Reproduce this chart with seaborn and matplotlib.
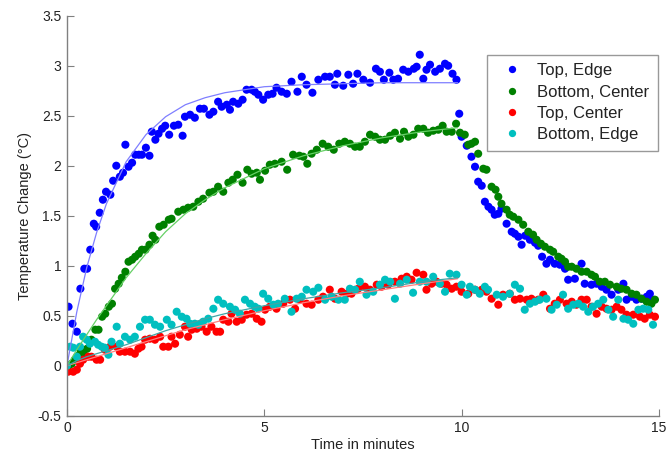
import pandas as pd
import matplotlib
matplotlib.use("Agg")
import matplotlib.pyplot as plt
import seaborn as sns

# series (time in minutes, temperature change in °C)
top_edge_t = [0.04, 0.14, 0.25, 0.34, 0.44, 0.51, 0.59, 0.68, 0.74, 0.83, 0.91, 0.99, 1.10, 1.17, 1.25,
              1.34, 1.42, 1.48, 1.56, 1.65, 1.73, 1.82, 1.90, 2.00, 2.09, 2.15, 2.24, 2.32, 2.41, 2.49,
              2.59, 2.71, 2.82, 2.93, 2.99, 3.12, 3.24, 3.37, 3.47, 3.61, 3.71, 3.83, 3.92, 4.05, 4.13,
              4.21, 4.34, 4.45, 4.55, 4.68, 4.76, 4.85, 4.97, 5.10, 5.21, 5.31, 5.44, 5.57, 5.69, 5.84,
              5.95, 6.07, 6.22, 6.37, 6.54, 6.66, 6.79, 6.85, 7.00, 7.13, 7.25, 7.36, 7.51, 7.68, 7.83,
              7.93, 8.03, 8.17, 8.27, 8.39, 8.52, 8.65, 8.79, 8.86, 8.94, 9.03, 9.11, 9.20, 9.33, 9.45,
              9.58, 9.66, 9.77, 9.87, 9.94, 10.00, 10.13, 10.25, 10.34, 10.42, 10.51, 10.59, 10.68, 10.76,
              10.84, 10.93, 11.01, 11.14, 11.27, 11.35, 11.44, 11.52, 11.61, 11.73, 11.86, 11.94, 12.04,
              12.15, 12.24, 12.36, 12.49, 12.62, 12.70, 12.87, 13.04, 13.12, 13.29, 13.42, 13.55, 13.67,
              13.80, 13.97, 14.10, 14.18, 14.31, 14.43, 14.56, 14.69, 14.77, 14.86]
top_edge_v = [0.59, 0.42, 0.34, 0.77, 0.97, 0.97, 1.16, 1.42, 1.39, 1.53, 1.66, 1.74, 1.71, 1.85, 2.00,
              1.89, 1.93, 2.21, 1.99, 2.03, 2.11, 2.11, 2.11, 2.18, 2.10, 2.34, 2.26, 2.32, 2.37, 2.40,
              2.31, 2.40, 2.41, 2.30, 2.49, 2.51, 2.48, 2.57, 2.57, 2.51, 2.54, 2.64, 2.59, 2.61, 2.56,
              2.64, 2.62, 2.66, 2.76, 2.76, 2.74, 2.71, 2.66, 2.71, 2.72, 2.78, 2.74, 2.72, 2.84, 2.74,
              2.89, 2.81, 2.73, 2.86, 2.89, 2.89, 2.81, 2.92, 2.80, 2.91, 2.82, 2.92, 2.86, 2.83, 2.97,
              2.94, 2.86, 2.93, 2.86, 2.87, 2.96, 2.94, 2.97, 2.99, 3.11, 2.87, 2.96, 3.01, 2.94, 2.97,
              3.02, 3.00, 2.92, 2.86, 2.52, 2.29, 2.20, 2.09, 1.99, 1.84, 1.80, 1.64, 1.59, 1.56,
              1.51, 1.52, 1.57, 1.42, 1.34, 1.32, 1.29, 1.21, 1.30, 1.26, 1.23, 1.20, 1.09,
              1.02, 1.06, 1.02, 1.01, 0.97, 0.86, 0.87, 1.02, 0.82, 0.81, 0.82, 0.79, 0.76,
              0.71, 0.76, 0.82, 0.66, 0.69, 0.66, 0.67, 0.69, 0.72, 0.66]

bottom_center_t = [0.04, 0.12, 0.20, 0.29, 0.35, 0.42, 0.51, 0.62, 0.72, 0.80, 0.89, 0.97, 1.06, 1.14,
                   1.22, 1.31, 1.39, 1.48, 1.56, 1.65, 1.73, 1.82, 1.90, 1.99, 2.09, 2.17, 2.24, 2.34,
                   2.45, 2.58, 2.65, 2.82, 2.95, 3.07, 3.20, 3.33, 3.45, 3.61, 3.71, 3.83, 3.96, 4.09,
                   4.20, 4.32, 4.45, 4.57, 4.68, 4.81, 4.89, 5.02, 5.14, 5.27, 5.44, 5.58, 5.73, 5.89,
                   5.99, 6.09, 6.20, 6.33, 6.48, 6.62, 6.76, 6.90, 7.04, 7.17, 7.30, 7.42, 7.55, 7.68,
                   7.81, 7.93, 8.06, 8.19, 8.31, 8.44, 8.54, 8.65, 8.78, 8.90, 9.03, 9.15, 9.28, 9.41,
                   9.52, 9.62, 9.75, 9.86, 9.96, 10.08, 10.17, 10.25, 10.34, 10.42, 10.55, 10.63, 10.76,
                   10.86, 10.93, 11.01, 11.14, 11.22, 11.31, 11.44, 11.56, 11.69, 11.81, 11.90, 12.01,
                   12.11, 12.24, 12.32, 12.45, 12.53, 12.62, 12.70, 12.79, 12.91, 13.04, 13.17, 13.29,
                   13.38, 13.50, 13.63, 13.76, 13.93, 14.05, 14.18, 14.31, 14.43, 14.56, 14.69, 14.81, 14.90]
bottom_center_v = [0.00, 0.02, 0.06, 0.10, 0.14, 0.12, 0.17, 0.26, 0.36, 0.36, 0.49, 0.52, 0.59, 0.62,
                   0.77, 0.82, 0.88, 0.94, 1.04, 1.06, 1.09, 1.12, 1.16, 1.16, 1.21, 1.30, 1.26, 1.39,
                   1.41, 1.46, 1.47, 1.54, 1.56, 1.58, 1.59, 1.64, 1.67, 1.73, 1.74, 1.79, 1.74, 1.83,
                   1.86, 1.91, 1.83, 1.96, 1.92, 1.93, 1.86, 1.95, 2.01, 2.02, 2.04, 1.96, 2.11, 2.10,
                   2.09, 2.02, 2.12, 2.16, 2.22, 2.19, 2.16, 2.22, 2.24, 2.22, 2.19, 2.19, 2.24, 2.31,
                   2.29, 2.26, 2.26, 2.30, 2.33, 2.27, 2.34, 2.29, 2.31, 2.37, 2.37, 2.33, 2.35, 2.36,
                   2.40, 2.34, 2.34, 2.42, 2.33, 2.31, 2.21, 2.22, 2.24, 2.12, 1.97, 1.96, 1.79,
                   1.76, 1.69, 1.62, 1.56, 1.51, 1.49, 1.46, 1.41, 1.34, 1.31, 1.26, 1.22,
                   1.19, 1.16, 1.14, 1.09, 1.07, 1.04, 0.99, 0.99, 0.97, 0.94, 0.94, 0.91,
                   0.89, 0.84, 0.84, 0.81, 0.79, 0.77, 0.76, 0.72, 0.71, 0.67, 0.64, 0.62, 0.66]

top_center_t = [0.03, 0.16, 0.25, 0.33, 0.41, 0.54, 0.62, 0.75, 0.84, 0.96, 1.09, 1.26, 1.34, 1.47, 1.60,
                1.72, 1.81, 1.89, 1.98, 2.10, 2.23, 2.36, 2.44, 2.57, 2.65, 2.74, 2.86, 2.99, 3.07, 3.16,
                3.29, 3.41, 3.54, 3.66, 3.79, 3.88, 3.96, 4.09, 4.17, 4.30, 4.43, 4.55, 4.68, 4.81, 4.93,
                5.02, 5.14, 5.31, 5.48, 5.65, 5.78, 5.90, 6.07, 6.20, 6.37, 6.49, 6.66, 6.79, 6.96, 7.09,
                7.21, 7.38, 7.55, 7.68, 7.85, 7.97, 8.14, 8.31, 8.48, 8.61, 8.73, 8.86, 9.03, 9.11, 9.24,
                9.37, 9.49, 9.62, 9.75, 9.87, 10.00, 10.17, 10.34, 10.51, 10.63, 10.76, 10.93, 11.05, 11.22,
                11.35, 11.48, 11.65, 11.77, 11.94, 12.07, 12.24, 12.36, 12.49, 12.66, 12.79, 12.91, 13.04,
                13.17, 13.29, 13.42, 13.55, 13.67, 13.80, 13.93, 14.05, 14.18, 14.35, 14.52, 14.64, 14.77, 14.90]
top_center_v = [-0.06, -0.06, -0.04, 0.02, 0.06, 0.09, 0.09, 0.06, 0.06, 0.16, 0.19, 0.19, 0.14, 0.14, 0.14,
                0.12, 0.17, 0.19, 0.26, 0.27, 0.26, 0.29, 0.19, 0.19, 0.29, 0.22, 0.31, 0.39, 0.29, 0.36,
                0.37, 0.39, 0.34, 0.39, 0.34, 0.34, 0.46, 0.44, 0.52, 0.44, 0.46, 0.51, 0.52, 0.47, 0.44,
                0.56, 0.59, 0.57, 0.62, 0.66, 0.57, 0.66, 0.62, 0.61, 0.66, 0.69, 0.76, 0.67, 0.74, 0.72,
                0.72, 0.77, 0.79, 0.76, 0.81, 0.79, 0.81, 0.84, 0.87, 0.89, 0.86, 0.93, 0.91, 0.76, 0.82,
                0.84, 0.82, 0.81, 0.77, 0.79, 0.74, 0.72, 0.76, 0.76, 0.74, 0.67, 0.61, 0.71, 0.72,
                0.66, 0.67, 0.66, 0.67, 0.66, 0.71, 0.57, 0.62, 0.66, 0.62, 0.64, 0.61, 0.66,
                0.66, 0.59, 0.52, 0.59, 0.57, 0.56, 0.59, 0.56, 0.51, 0.51, 0.49, 0.47, 0.51, 0.49]

bottom_edge_t = [0.00, 0.08, 0.16, 0.25, 0.33, 0.41, 0.50, 0.58, 0.71, 0.79, 0.88, 0.96, 1.05, 1.13, 1.26,
                 1.34, 1.47, 1.60, 1.72, 1.85, 1.98, 2.10, 2.23, 2.36, 2.53, 2.65, 2.78, 2.91, 3.03, 3.12,
                 3.24, 3.33, 3.45, 3.58, 3.71, 3.83, 3.96, 4.13, 4.26, 4.38, 4.51, 4.64, 4.76, 4.85, 4.97,
                 5.10, 5.23, 5.35, 5.52, 5.69, 5.82, 5.95, 6.07, 6.24, 6.37, 6.54, 6.71, 6.88, 7.04, 7.17,
                 7.30, 7.42, 7.59, 7.76, 7.93, 8.06, 8.19, 8.31, 8.44, 8.61, 8.77, 8.94, 9.11, 9.28, 9.45,
                 9.58, 9.70, 9.87, 10.00, 10.13, 10.21, 10.34, 10.46, 10.59, 10.67, 10.89, 11.05, 11.22,
                 11.35, 11.48, 11.60, 11.73, 11.86, 11.98, 12.15, 12.28, 12.41, 12.57, 12.70, 12.83, 12.96,
                 13.08, 13.21, 13.33, 13.46, 13.59, 13.72, 13.84, 13.97, 14.10, 14.22, 14.35, 14.48, 14.60,
                 14.73, 14.85]
bottom_edge_v = [0.00, 0.19, 0.18, 0.09, 0.19, 0.29, 0.26, 0.22, 0.24, 0.21, 0.19, 0.18, 0.11, 0.24, 0.39,
                 0.22, 0.29, 0.26, 0.29, 0.39, 0.46, 0.46, 0.41, 0.39, 0.46, 0.41, 0.54, 0.49, 0.47, 0.42,
                 0.42, 0.41, 0.44, 0.47, 0.57, 0.66, 0.62, 0.59, 0.56, 0.52, 0.66, 0.62, 0.59, 0.57, 0.72,
                 0.67, 0.61, 0.62, 0.67, 0.54, 0.67, 0.69, 0.76, 0.74, 0.78, 0.66, 0.69, 0.66, 0.66, 0.77,
                 0.76, 0.84, 0.71, 0.74, 0.81, 0.86, 0.84, 0.67, 0.82, 0.86, 0.73, 0.84, 0.84, 0.89, 0.82,
                 0.74, 0.92, 0.91, 0.81, 0.71, 0.79, 0.76, 0.72, 0.79, 0.76, 0.71, 0.69, 0.72,
                 0.81, 0.77, 0.56, 0.62, 0.64, 0.66, 0.67, 0.56, 0.61, 0.71, 0.57, 0.61, 0.62,
                 0.59, 0.54, 0.59, 0.62, 0.66, 0.56, 0.49, 0.66, 0.47, 0.46, 0.42, 0.56, 0.57,
                 0.56, 0.41]

# fitted curves, read at a few times (drawn only up to ~10 min)
fit_t = [0, 0.25, 0.5, 0.75, 1, 1.5, 2, 2.5, 3, 3.5, 4, 5, 6, 7, 8, 9, 9.9]
fit_top_edge = [0, 0.54, 0.98, 1.33, 1.62, 2.04, 2.31, 2.49, 2.61, 2.68, 2.73, 2.79, 2.81, 2.82, 2.83, 2.83, 2.83]
fit_bottom_center = [0, 0.16, 0.31, 0.46, 0.6, 0.88, 1.12, 1.34, 1.52, 1.66, 1.78, 1.97, 2.1, 2.2, 2.28, 2.34, 2.38]
fit_top_center = [0, 0.03, 0.06, 0.09, 0.12, 0.18, 0.24, 0.3, 0.36, 0.41, 0.46, 0.55, 0.63, 0.7, 0.76, 0.82, 0.87]
fit_bottom_edge = [0, 0.05, 0.09, 0.12, 0.15, 0.21, 0.28, 0.35, 0.41, 0.47, 0.52, 0.6, 0.67, 0.73, 0.78, 0.84, 0.88]

labels = ["Top, Edge", "Bottom, Center", "Top, Center", "Bottom, Edge"]
colors = ["#0000ff", "#008000", "#ff0000", "#00bfbf"]
fit_colors = ["#7f7fff", "#66d066", "#ff7f7f", "#3fa6a6"]

series_t = [top_edge_t, bottom_center_t, top_center_t, bottom_edge_t]
series_v = [top_edge_v, bottom_center_v, top_center_v, bottom_edge_v]
fits = [fit_top_edge, fit_bottom_center, fit_top_center, fit_bottom_edge]

df = pd.concat([pd.DataFrame({"t": t, "v": v, "series": lab})
                for t, v, lab in zip(series_t, series_v, labels)], ignore_index=True)
fit_df = pd.concat([pd.DataFrame({"t": fit_t, "v": f, "series": lab})
                    for f, lab in zip(fits, labels)], ignore_index=True)

sns.set_style("ticks")
plt.rcParams["font.family"] = ["Liberation Sans", "DejaVu Sans"]

fig = plt.figure(figsize=(6.71, 4.53), dpi=100)
ax = fig.add_axes([0.0998, 0.0823, 0.8822, 0.8830])

sns.scatterplot(data=df, x="t", y="v", hue="series", hue_order=labels, palette=colors,
                s=34, edgecolor="none", linewidth=0, ax=ax, legend=True)
sns.lineplot(data=fit_df, x="t", y="v", hue="series", hue_order=labels, palette=fit_colors,
             estimator=None, sort=False, linewidth=0.9, ax=ax, legend=False)

ax.set_xlim(0, 15)
ax.set_ylim(-0.5, 3.5)
ax.set_xticks([0, 5, 10, 15])
ax.set_xticklabels(["0", "5", "10", "15"])
yt = [-0.5, 0, 0.5, 1, 1.5, 2, 2.5, 3, 3.5]
ax.set_yticks(yt)
ax.set_yticklabels(["-0.5", "0", "0.5", "1", "1.5", "2", "2.5", "3", "3.5"])
ax.tick_params(direction="in", length=5, width=0.8, color="#808080", labelsize=10,
               labelcolor="#222222", pad=4)
sns.despine(ax=ax)
for sp in ["left", "bottom"]:
    ax.spines[sp].set_color("#808080")
    ax.spines[sp].set_linewidth(1.0)

ax.set_xlabel("Time in minutes", fontsize=10.5, color="#222222", labelpad=2)
ax.set_ylabel("Temperature Change (°C)", fontsize=10.5, color="#222222", labelpad=4)

handles, _ = ax.get_legend_handles_labels()
leg = ax.legend(handles[:4], labels, loc="upper right", bbox_to_anchor=(0.998, 0.902),
                borderaxespad=0, frameon=True, fancybox=False, edgecolor="#808080",
                fontsize=12, handletextpad=0.5, borderpad=0.5, labelspacing=0.38,
                markerscale=0.9)
leg.get_frame().set_linewidth(1.0)
for txt in leg.get_texts():
    txt.set_color("#222222")

fig.savefig("out.png", dpi=100)
